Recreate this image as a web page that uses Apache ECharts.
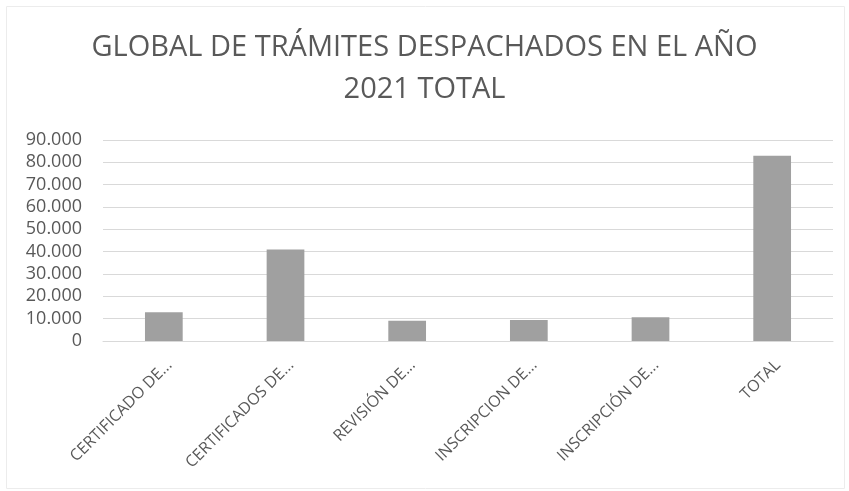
<!DOCTYPE html>
<html><head><meta charset="utf-8">
<script src="https://cdn.jsdelivr.net/npm/echarts@6/dist/echarts.min.js"></script>
<style>html,body{margin:0;padding:0;background:#fff}#c{width:849px;height:491px}</style>
</head><body><div id="c"></div>
<script>
const categories = ["CERTIFICADO DE...", "CERTIFICADOS DE...", "REVISIÓN DE...", "INSCRIPCION DE...", "INSCRIPCIÓN DE...", "TOTAL"];
const values = [12900, 41000, 9100, 9400, 10600, 83000];
const titleLines = ["GLOBAL DE TRÁMITES DESPACHADOS EN EL AÑO", "2021 TOTAL"];

const chart = echarts.init(document.getElementById('c'));
chart.setOption({
  animation: false,
  graphic: [{
    type: 'rect', left: 4, top: 4, shape: { width: 838, height: 482 },
    style: { fill: 'none', stroke: '#ececec', lineWidth: 1 }, silent: true
  }],
  title: {
    text: titleLines.join('\n'),
    left: 'center', top: 22,
    textStyle: { fontFamily: 'Open Sans', fontWeight: 'normal', fontSize: 29, color: '#595959', lineHeight: 42 }
  },
  grid: { left: 103, right: 16, top: 140, bottom: 150 },
  xAxis: {
    type: 'category', data: categories,
    axisLine: { lineStyle: { color: '#d9d9d9' } },
    axisTick: { show: false },
    axisLabel: { rotate: 45, fontFamily: 'Open Sans', fontSize: 16, color: '#595959', interval: 0, margin: 16, verticalAlign: 'top' }
  },
  yAxis: {
    type: 'value', min: 0, max: 90000, interval: 10000,
    axisLine: { show: false }, axisTick: { show: false },
    splitLine: { lineStyle: { color: '#d9d9d9' } },
    axisLabel: {
      fontFamily: 'Open Sans', fontSize: 18, color: '#595959', margin: 21,
      formatter: v => v === 0 ? '0' : v.toLocaleString('de-DE')
    }
  },
  series: [{
    type: 'bar', data: values, barWidth: '31%',
    itemStyle: { color: '#a0a0a0' }
  }]
});
</script></body></html>
